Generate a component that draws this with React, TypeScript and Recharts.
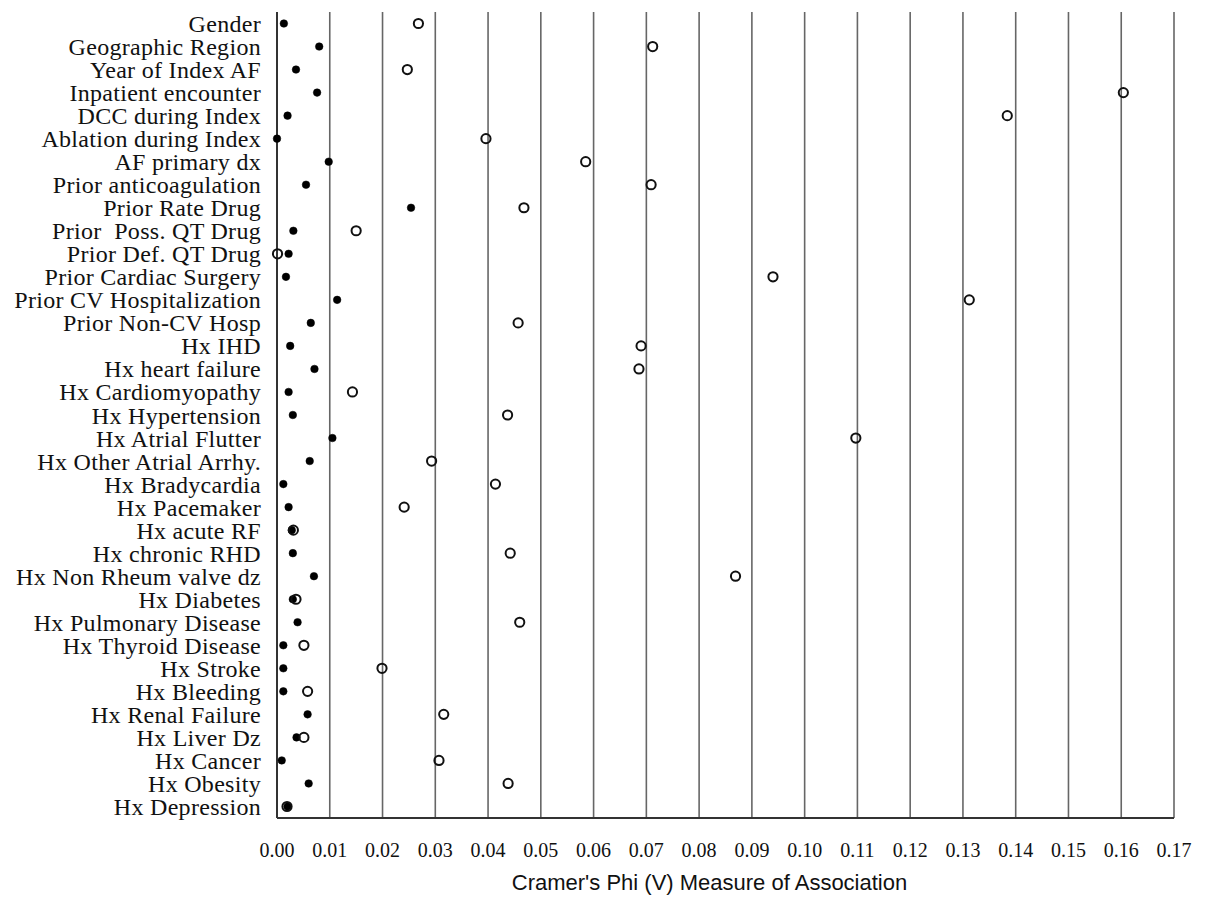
import React from 'react';
import {
  ComposedChart,
  Line,
  XAxis,
  YAxis,
  CartesianGrid,
} from 'recharts';

const CATEGORIES = [
  'Gender',
  'Geographic Region',
  'Year of Index AF',
  'Inpatient encounter',
  'DCC during Index',
  'Ablation during Index',
  'AF primary dx',
  'Prior anticoagulation',
  'Prior Rate Drug',
  'Prior\u00A0 Poss. QT Drug',
  'Prior Def. QT Drug',
  'Prior Cardiac Surgery',
  'Prior CV Hospitalization',
  'Prior Non-CV Hosp',
  'Hx IHD',
  'Hx heart failure',
  'Hx Cardiomyopathy',
  'Hx Hypertension',
  'Hx Atrial Flutter',
  'Hx Other Atrial Arrhy.',
  'Hx Bradycardia',
  'Hx Pacemaker',
  'Hx acute RF',
  'Hx chronic RHD',
  'Hx Non Rheum valve dz',
  'Hx Diabetes',
  'Hx Pulmonary Disease',
  'Hx Thyroid Disease',
  'Hx Stroke',
  'Hx Bleeding',
  'Hx Renal Failure',
  'Hx Liver Dz',
  'Hx Cancer',
  'Hx Obesity',
  'Hx Depression',
];

// filled dots
const FILLED = [
  0.0013, 0.008, 0.0036, 0.0076, 0.002, 0.0, 0.0098, 0.0055, 0.0254, 0.0031,
  0.0022, 0.0017, 0.0114, 0.0064, 0.0025, 0.0071, 0.0022, 0.003, 0.0105, 0.0062,
  0.0012, 0.0022, 0.0028, 0.003, 0.007, 0.003, 0.0039, 0.0012, 0.0012, 0.0012,
  0.0058, 0.0037, 0.0009, 0.006, 0.002,
];

// open circles
const OPEN = [
  0.0268, 0.0712, 0.0247, 0.1604, 0.1384, 0.0396, 0.0585, 0.0709, 0.0468, 0.015,
  0.0001, 0.094, 0.1312, 0.0457, 0.069, 0.0686, 0.0143, 0.0437, 0.1097, 0.0293,
  0.0414, 0.0241, 0.0031, 0.0442, 0.0869, 0.0036, 0.046, 0.0051, 0.0199, 0.0058,
  0.0316, 0.0051, 0.0307, 0.0438, 0.0019,
];

const X_TICKS = [
  0, 0.01, 0.02, 0.03, 0.04, 0.05, 0.06, 0.07, 0.08, 0.09,
  0.1, 0.11, 0.12, 0.13, 0.14, 0.15, 0.16, 0.17,
];

const data = CATEGORIES.map((name, i) => ({
  name,
  filled: FILLED[i],
  open: OPEN[i],
}));

const serif = '"Liberation Serif", "Times New Roman", serif';

export default function App() {
  return (
    <div style={{ position: 'absolute', left: 0, top: 0, background: '#fff' }}>
      <ComposedChart
        width={1206}
        height={897}
        data={data}
        layout="vertical"
        margin={{ top: 12, right: 32, bottom: 0, left: 0 }}
      >
        <CartesianGrid horizontal={false} stroke="#666" strokeWidth={1.6} />
        <XAxis
          type="number"
          domain={[0, 0.17]}
          ticks={X_TICKS}
          interval={0}
          tickFormatter={(v: number) => v.toFixed(2)}
          height={79}
          tickLine={false}
          tickSize={0}
          tickMargin={25}
          axisLine={{ stroke: '#333', strokeWidth: 2 }}
          tick={{ fill: '#111', fontSize: 20, fontFamily: serif }}
          label={{
            value: "Cramer's Phi (V) Measure of Association",
            position: 'insideBottom',
            offset: 7,
            dx: -16,
            style: {
              fill: '#111',
              fontSize: 22,
              fontFamily: '"Liberation Sans", Arial, sans-serif',
            },
          }}
        />
        <YAxis
          type="category"
          dataKey="name"
          scale="band"
          width={277}
          interval={0}
          tickLine={false}
          tickSize={0}
          tickMargin={16}
          axisLine={{ stroke: '#333', strokeWidth: 2 }}
          tick={{ fill: '#111', fontSize: 24, fontFamily: serif, letterSpacing: 0.3 }}
        />
        <Line
          dataKey="filled"
          stroke="none"
          isAnimationActive={false}
          activeDot={false}
          legendType="none"
          dot={{ r: 3.8, fill: '#000', stroke: '#000', strokeWidth: 0.5 }}
        />
        <Line
          dataKey="open"
          stroke="none"
          isAnimationActive={false}
          activeDot={false}
          legendType="none"
          dot={{ r: 4.6, fill: 'none', stroke: '#111', strokeWidth: 2 }}
        />
      </ComposedChart>
    </div>
  );
}
